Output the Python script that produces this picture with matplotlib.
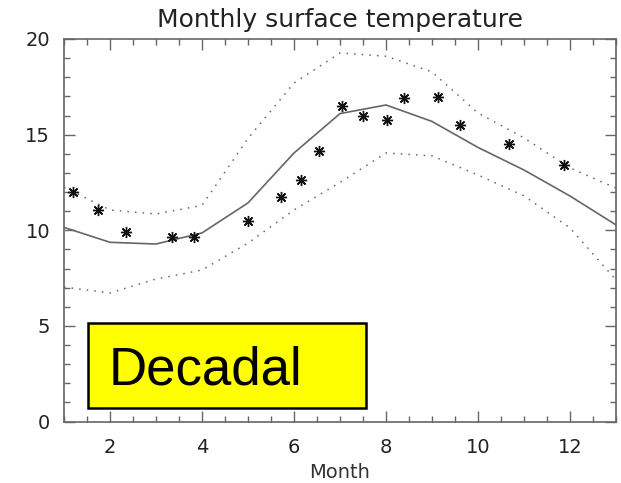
import matplotlib
matplotlib.use("Agg")
import matplotlib.pyplot as plt
from matplotlib.patches import Rectangle
from matplotlib.ticker import MultipleLocator

# monthly climatology (solid) with upper / lower envelopes (dotted)
months = [1, 2, 3, 4, 5, 6, 7, 8, 9, 10, 11, 12, 13]
mean_temp = [10.15, 9.37, 9.28, 9.86, 11.43, 14.04, 16.1, 16.55, 15.69, 14.33, 13.15, 11.79, 10.28]
upper_temp = [12.25, 11.06, 10.85, 11.3, 14.8, 17.7, 19.27, 19.1, 18.28, 16.13, 14.83, 13.26, 12.2]
lower_temp = [7.03, 6.72, 7.45, 7.92, 9.33, 11.06, 12.5, 14.04, 13.89, 12.89, 11.8, 10.12, 7.4]

# decadal observations (stars)
obs_month = [1.20, 1.74, 2.35, 3.35, 3.83, 5.00, 5.72, 6.15, 6.54, 7.04, 7.50, 8.02,
             8.39, 9.13, 9.61, 10.67, 11.87]
obs_temp = [12.0, 11.06, 9.91, 9.65, 9.65, 10.49, 11.74, 12.63, 14.15, 16.51, 15.98, 15.77,
            16.92, 16.95, 15.5, 14.5, 13.42]

fig = plt.figure(figsize=(6.21, 4.83), dpi=100)
ax = fig.add_axes([64 / 621, 1 - 421.5 / 483, 552 / 621, 382.5 / 483])

grey = "#666666"
ax.plot(months, mean_temp, color=grey, lw=1.2)
ax.plot(months, upper_temp, color=grey, lw=1.1, linestyle=(0, (1, 4)))
ax.plot(months, lower_temp, color=grey, lw=1.1, linestyle=(0, (1, 4)))
ax.plot(obs_month, obs_temp, linestyle="none", marker=(8, 2, 0), markersize=8,
        markeredgecolor="#111111", markeredgewidth=1.0)

ax.set_xlim(1, 13)
ax.set_ylim(0, 20)
ax.xaxis.set_major_locator(MultipleLocator(2))
ax.xaxis.set_minor_locator(MultipleLocator(0.5))
ax.yaxis.set_major_locator(MultipleLocator(5))
ax.yaxis.set_minor_locator(MultipleLocator(1))
ax.set_xticks([2, 4, 6, 8, 10, 12])
ax.tick_params(which="both", direction="in", top=True, right=True, color=grey)
ax.tick_params(which="major", length=8, width=1, labelsize=14, pad=12, labelcolor="#222222")
ax.tick_params(which="minor", length=4, width=1)
ax.tick_params(axis="y", pad=10)
for s in ax.spines.values():
    s.set_color(grey)
    s.set_linewidth(1.2)

ax.set_xlabel("Month", fontsize=14, labelpad=4, color="#333333")
ax.set_title("Monthly surface temperature", fontsize=18, pad=9, color="#222222")

# yellow label box
ax.add_patch(Rectangle((1.52, 0.71), 6.05, 4.44, facecolor="#ffff00",
                       edgecolor="black", lw=1.8, zorder=5))
ax.text(1.96, 1.91, "Decadal", fontsize=38, family="Liberation Sans",
        ha="left", va="baseline", zorder=6)

fig.savefig("out.png", dpi=100)
